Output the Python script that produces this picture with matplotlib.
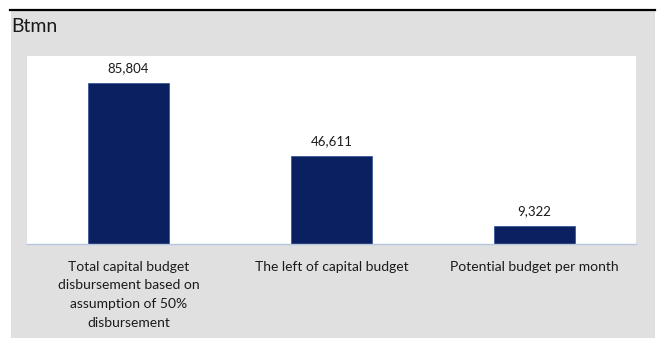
import matplotlib
matplotlib.use("Agg")
import matplotlib.pyplot as plt
from matplotlib.patches import Rectangle
from matplotlib.lines import Line2D

plt.rcParams['font.family'] = ['Lato', 'DejaVu Sans']

categories = [
    "Total capital budget\ndisbursement based on\nassumption of 50%\ndisbursement",
    "The left of capital budget",
    "Potential budget per month",
]
values = [85804, 46611, 9322]
unit_label = "Btmn"

W, H = 659, 338
fig = plt.figure(figsize=(W / 100, H / 100), dpi=100)

# grey panel with a black rule on top
fig.patches.append(Rectangle((11 / W, 0), (655 - 11) / W, (H - 11) / H,
                             transform=fig.transFigure, facecolor='#e0e0e0',
                             edgecolor='none', zorder=-10))
fig.lines.append(Line2D([10 / W, 655 / W], [(H - 10) / H] * 2,
                        transform=fig.transFigure, color='black', linewidth=1.6))
fig.text(11 / W, (H - 27) / H, unit_label, fontsize=14, color='#1a1a1a',
         ha='left', va='center')

ax = fig.add_axes([27 / W, (H - 244) / H, (636 - 27) / W, (244 - 56) / H])
ax.set_facecolor('white')
x = range(len(values))
bars = ax.bar(x, values, width=0.40, color='#0b2060', edgecolor='#3a5a9a',
              linewidth=0.6)
ax.set_xlim(-0.5, 2.5)
ax.set_ylim(0, 100000)

for b, v in zip(bars, values):
    ax.annotate(f"{v:,}", xy=(b.get_x() + b.get_width() / 2, v),
                xytext=(0, 6.5), textcoords='offset points',
                ha='center', va='bottom', fontsize=9.5, color='#1a1a1a')

ax.set_xticks(list(x))
ax.set_xticklabels(categories, fontsize=10, color='#1a1a1a', linespacing=1.68)
ax.tick_params(axis='x', length=0, pad=12)
ax.set_yticks([])
for side in ['top', 'left', 'right']:
    ax.spines[side].set_visible(False)
ax.spines['bottom'].set_color('#b4c6dc')
ax.spines['bottom'].set_linewidth(1.0)

fig.savefig("out.png", dpi=100)
